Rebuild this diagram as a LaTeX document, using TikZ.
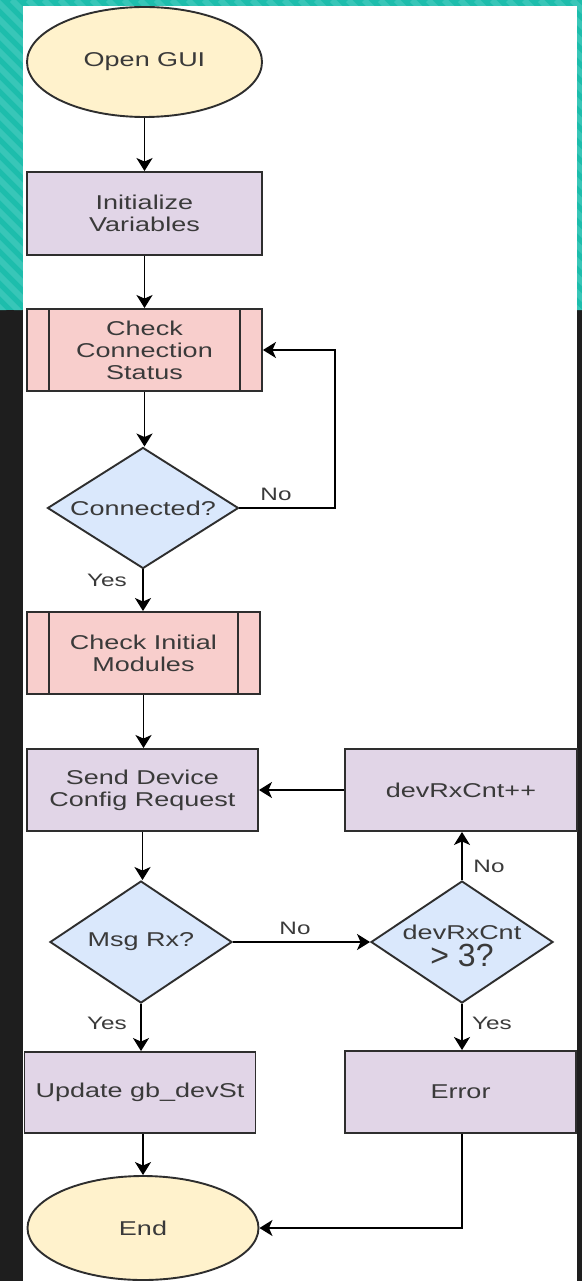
\documentclass[tikz,border=0pt]{standalone}
\usepackage{fontspec}
\setmainfont{Liberation Sans}[FakeStretch=1.35]
\newfontfamily\bigsans{Liberation Sans}
\usetikzlibrary{shapes.geometric,arrows.meta}

\definecolor{framedark}{HTML}{1E1E1E}
\definecolor{frameteal}{HTML}{1DBDAC}
\definecolor{framestripe}{HTML}{38C6B8}
\definecolor{termfill}{HTML}{FFF2CC}
\definecolor{procfill}{HTML}{E1D5E7}
\definecolor{subfill}{HTML}{F8CECC}
\definecolor{decfill}{HTML}{DAE8FC}
\definecolor{edgeline}{HTML}{2E2E2E}
\definecolor{inkgray}{HTML}{3A3A3A}

\begin{document}
\begin{tikzpicture}[x=1pt,y=-1pt,
  txt/.style={text=inkgray,font=\fontsize{20}{22}\selectfont,align=center},
  term/.style={ellipse,draw=edgeline,line width=1.9pt,fill=termfill,inner sep=0pt,txt},
  proc/.style={rectangle,draw=edgeline,line width=1.9pt,fill=procfill,inner sep=0pt,txt},
  sub/.style={rectangle,draw=edgeline,line width=1.9pt,fill=subfill,inner sep=0pt,txt},
  dia/.style={diamond,draw=edgeline,line width=1.9pt,fill=decfill,inner sep=0pt},
  lbl/.style={text=inkgray,font=\fontsize{18}{20}\selectfont,inner sep=0pt},
  arr/.style={draw=black,line width=1.8pt,-{Stealth[length=13pt,width=16pt,inset=3.5pt]}}]

\useasboundingbox (0,0) rectangle (582,1281);

% page frame: striped teal band on top, dark band below
\fill[framedark] (0,0) rectangle (582,1281);
\begin{scope}
  \clip (0,0) rectangle (23,310) (0,0) rectangle (582,6) (577,0) rectangle (582,310);
  \fill[frameteal] (0,0) rectangle (582,310);
  \foreach \s in {-420,-404,...,600}
    \draw[framestripe,line width=6pt] (\s,0) -- (\s+420,420);
\end{scope}
\fill[white] (23,6) rectangle (577,1281);

% main column
\node[term,minimum width=235,minimum height=110] (start) at (144.5,62) {Open GUI};
\node[proc,minimum width=235,minimum height=83] (init) at (144.5,213.5) {Initialize\\Variables};
\node[sub,minimum width=235,minimum height=82] (check) at (144.5,350) {Check\\Connection\\Status};
\draw[edgeline,line width=1.9pt] ([xshift=23pt]check.north west) -- ([xshift=23pt]check.south west)
  ([xshift=-23pt]check.north east) -- ([xshift=-23pt]check.south east);
\node[dia,minimum width=191,minimum height=121,
  label={[txt]center:Connected?}] (conn) at (143,508) {};
\node[sub,minimum width=233,minimum height=82] (mods) at (143.5,653) {Check Initial\\Modules};
\draw[edgeline,line width=1.9pt] ([xshift=23pt]mods.north west) -- ([xshift=23pt]mods.south west)
  ([xshift=-23pt]mods.north east) -- ([xshift=-23pt]mods.south east);
\node[proc,minimum width=231,minimum height=82] (send) at (142.5,790) {Send Device\\Config Request};
\node[dia,minimum width=182,minimum height=122,
  label={[txt]center:Msg Rx?}] (msg) at (141,942) {};
\node[proc,minimum width=231,minimum height=81] (upd) at (140,1092.5) {Update gb\_devSt};
\node[term,minimum width=231,minimum height=104] (stop) at (143,1228) {End};

% retry column
\node[proc,minimum width=232,minimum height=82] (inc) at (461,790) {devRxCnt++};
\node[dia,minimum width=182,minimum height=122,
  label={[txt,yshift=10pt]center:devRxCnt},
  label={[text=inkgray,font=\bigsans\fontsize{32}{34}\selectfont,yshift=-13pt]center:> 3?}] (cnt) at (462,942) {};
\node[proc,minimum width=231,minimum height=82] (err) at (460.5,1092) {Error};

% connectors
\draw[arr] (start.south) -- (start.south |- init.north);
\draw[arr] (init.south) -- (init.south |- check.north);
\draw[arr] (check.south) -- (check.south |- conn.north);
\coordinate (loopA) at (335,508);
\draw[arr] (conn.east) -- (loopA) |- (check.east);
\node[lbl] (noA) at (276,494) {No};
\draw[arr] (conn.south) -- (conn.south |- mods.north);
\node[lbl] (yesA) at (107,580) {Yes};
\draw[arr] (mods.south) -- (mods.south |- send.north);
\draw[arr] (send.south) -- (send.south |- msg.north);
\draw[arr] (msg.east) -- (cnt.west);
\node[lbl] (noB) at (295,928) {No};
\draw[arr] (msg.south) -- (msg.south |- upd.north);
\node[lbl] (yesB) at (107,1023) {Yes};
\draw[arr] (upd.south -| stop.north) -- (stop.north);
\draw[arr] (cnt.north) -- (cnt.north |- inc.south);
\node[lbl] (noC) at (489,866) {No};
\draw[arr] (cnt.south) -- (cnt.south |- err.north);
\node[lbl] (yesC) at (492,1023) {Yes};
\draw[arr] (inc.west) -- (send.east);
\draw[arr] (err.south -| cnt.south) |- (stop.east);
\end{tikzpicture}
\end{document}
